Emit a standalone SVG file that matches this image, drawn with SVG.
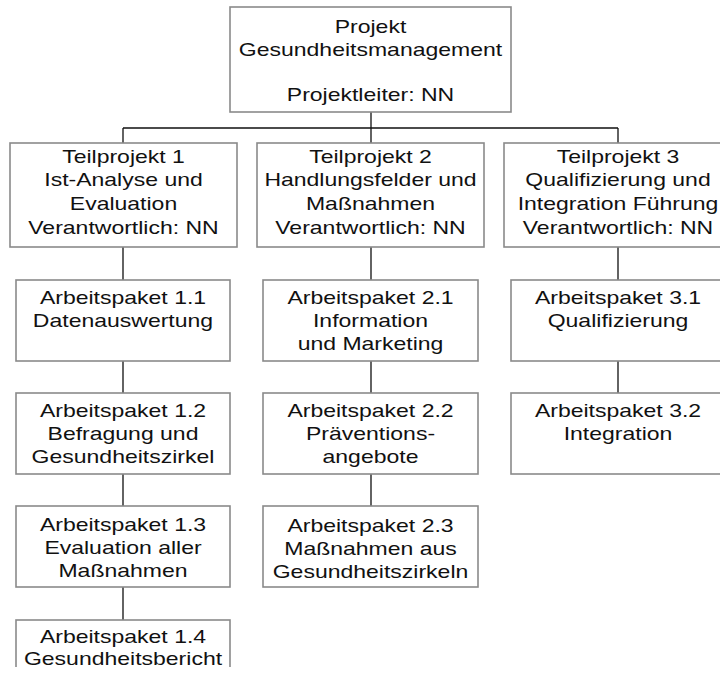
<svg xmlns="http://www.w3.org/2000/svg" width="720" height="675" viewBox="0 0 720 675">
<style>
.box{fill:#fff;stroke:#8a8a8a;stroke-width:1.6}
.lbl{font-family:"Liberation Sans",Arial,sans-serif;font-size:17.7px;fill:#111;text-anchor:middle}
.con{stroke:#111;stroke-width:1.3;fill:none}
</style>
<defs>
<clipPath id="crop"><rect x="0" y="0" width="720" height="667"/></clipPath>
</defs>
<rect width="720" height="675" fill="#fff"/>
<g id="connectors">
<path class="con" d="M371,112V128M123,128H618M123,128V143M371,128V143M618,128V143"/>
<path class="con" d="M123,247V280M123,361V393M123,474V506M123,587V620"/>
<path class="con" d="M371,247V280M371,361V393M371,474V506"/>
<path class="con" d="M618,247V280M618,361V393"/>
</g>
<g id="projekt">
<rect class="box" x="230" y="7" width="281" height="105"/>
<g transform="translate(370.5 0) scale(1.3 1)"><text class="lbl"><tspan x="0" y="33">Projekt</tspan><tspan x="0" y="56">Gesundheitsmanagement</tspan><tspan x="0" y="101">Projektleiter: NN</tspan></text></g>
</g>
<g id="tp1">
<rect class="box" x="10" y="143" width="227" height="104"/>
<g transform="translate(123.5 0) scale(1.3 1)"><text class="lbl"><tspan x="0" y="163">Teilprojekt 1</tspan><tspan x="0" y="186.5">Ist-Analyse und</tspan><tspan x="0" y="210">Evaluation</tspan><tspan x="0" y="234">Verantwortlich: NN</tspan></text></g>
</g>
<g id="tp2">
<rect class="box" x="257" y="143" width="227" height="104"/>
<g transform="translate(370.5 0) scale(1.3 1)"><text class="lbl"><tspan x="0" y="163">Teilprojekt 2</tspan><tspan x="0" y="186.5">Handlungsfelder und</tspan><tspan x="0" y="210">Maßnahmen</tspan><tspan x="0" y="234">Verantwortlich: NN</tspan></text></g>
</g>
<g id="tp3">
<rect class="box" x="504" y="143" width="228" height="104"/>
<g transform="translate(618 0) scale(1.3 1)"><text class="lbl"><tspan x="0" y="163">Teilprojekt 3</tspan><tspan x="0" y="186.5">Qualifizierung und</tspan><tspan x="0" y="210">Integration Führung</tspan><tspan x="0" y="234">Verantwortlich: NN</tspan></text></g>
</g>
<g id="ap11">
<rect class="box" x="16" y="280" width="214" height="81"/>
<g transform="translate(123 0) scale(1.3 1)"><text class="lbl"><tspan x="0" y="304">Arbeitspaket 1.1</tspan><tspan x="0" y="327.5">Datenauswertung</tspan></text></g>
</g>
<g id="ap12">
<rect class="box" x="16" y="393" width="214" height="81"/>
<g transform="translate(123 0) scale(1.3 1)"><text class="lbl"><tspan x="0" y="417">Arbeitspaket 1.2</tspan><tspan x="0" y="440.5">Befragung und</tspan><tspan x="0" y="463.5">Gesundheitszirkel</tspan></text></g>
</g>
<g id="ap13">
<rect class="box" x="16" y="506" width="214" height="81"/>
<g transform="translate(123 0) scale(1.3 1)"><text class="lbl"><tspan x="0" y="531">Arbeitspaket 1.3</tspan><tspan x="0" y="554.5">Evaluation aller</tspan><tspan x="0" y="577.5">Maßnahmen</tspan></text></g>
</g>
<g id="ap14" clip-path="url(#crop)">
<rect class="box" x="16" y="620" width="214" height="81"/>
<g transform="translate(123 0) scale(1.3 1)"><text class="lbl"><tspan x="0" y="643.5">Arbeitspaket 1.4</tspan><tspan x="0" y="665">Gesundheitsbericht</tspan></text></g>
</g>
<g id="ap21">
<rect class="box" x="263" y="280" width="215" height="81"/>
<g transform="translate(370.5 0) scale(1.3 1)"><text class="lbl"><tspan x="0" y="304">Arbeitspaket 2.1</tspan><tspan x="0" y="327.5">Information</tspan><tspan x="0" y="350.5">und Marketing</tspan></text></g>
</g>
<g id="ap22">
<rect class="box" x="263" y="393" width="215" height="81"/>
<g transform="translate(370.5 0) scale(1.3 1)"><text class="lbl"><tspan x="0" y="417">Arbeitspaket 2.2</tspan><tspan x="0" y="440.5">Präventions-</tspan><tspan x="0" y="463.5">angebote</tspan></text></g>
</g>
<g id="ap23">
<rect class="box" x="263" y="506" width="215" height="81"/>
<g transform="translate(370.5 0) scale(1.3 1)"><text class="lbl"><tspan x="0" y="532">Arbeitspaket 2.3</tspan><tspan x="0" y="555">Maßnahmen aus</tspan><tspan x="0" y="578">Gesundheitszirkeln</tspan></text></g>
</g>
<g id="ap31">
<rect class="box" x="511" y="280" width="214" height="81"/>
<g transform="translate(618 0) scale(1.3 1)"><text class="lbl"><tspan x="0" y="304">Arbeitspaket 3.1</tspan><tspan x="0" y="327.5">Qualifizierung</tspan></text></g>
</g>
<g id="ap32">
<rect class="box" x="511" y="393" width="214" height="81"/>
<g transform="translate(618 0) scale(1.3 1)"><text class="lbl"><tspan x="0" y="417">Arbeitspaket 3.2</tspan><tspan x="0" y="440.5">Integration</tspan></text></g>
</g>
</svg>
